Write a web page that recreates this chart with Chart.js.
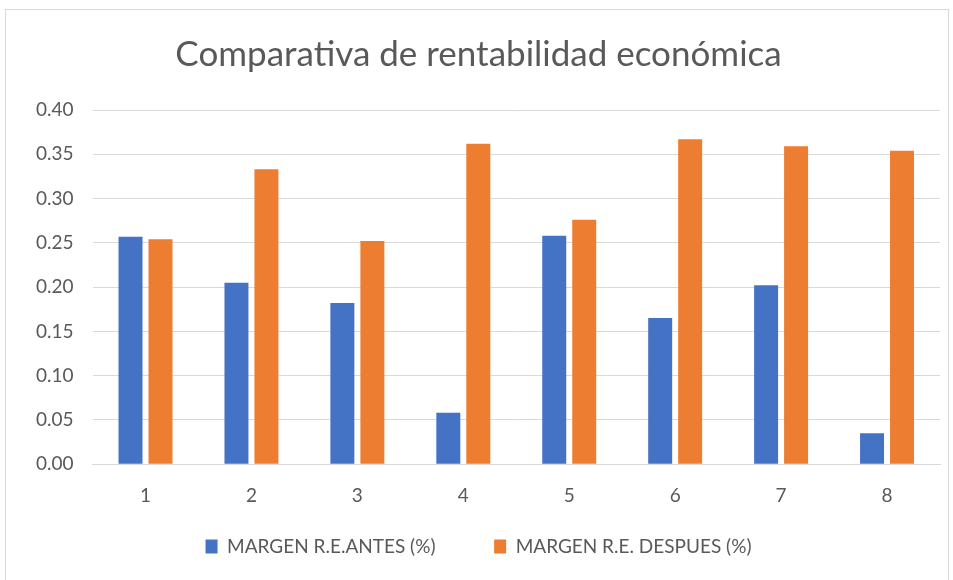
<!DOCTYPE html>
<html>
<head>
<meta charset="utf-8">
<script src="https://cdn.jsdelivr.net/npm/chart.js@4.4.0/dist/chart.umd.min.js"></script>
<style>
  body { margin: 0; background: #fff; }
  #box { position: absolute; left: 5px; top: 9px; width: 944px; height: 580px; border: 1px solid #d9d9d9; box-sizing: border-box; }
</style>
</head>
<body>
<div id="box"><canvas id="chart"></canvas></div>
<script>
const categories = ['1', '2', '3', '4', '5', '6', '7', '8'];
const antes = [0.257, 0.205, 0.182, 0.058, 0.258, 0.165, 0.202, 0.035];
const despues = [0.254, 0.333, 0.252, 0.362, 0.276, 0.367, 0.359, 0.354];
const seriesNames = ['MARGEN R.E.ANTES (%)', 'MARGEN R.E. DESPUES (%)'];

const fontFamily = 'Lato, "Open Sans", sans-serif';
const textColor = '#595959';

let ctx = document.getElementById('chart').getContext('2d');
let chart = new Chart(ctx, {
    type: 'bar',
    data: {
        labels: categories,
        datasets: [{
            label: seriesNames[0],
            data: antes,
            backgroundColor: '#4472c4',
            barPercentage: 0.8,
            categoryPercentage: 0.566
        }, {
            label: seriesNames[1],
            data: despues,
            backgroundColor: '#ed7d31',
            barPercentage: 0.8,
            categoryPercentage: 0.566
        }]
    },
    options: {
        responsive: true,
        maintainAspectRatio: false,
        animation: false,
        layout: { padding: { left: 11, right: 8, top: 10, bottom: 22 } },
        plugins: {
            title: {
                display: true,
                text: 'Comparativa de rentabilidad económica',
                color: textColor,
                font: { family: fontFamily, size: 35, weight: 'normal' },
                padding: { top: 14, bottom: 34 }
            },
            legend: {
                position: 'bottom',
                labels: {
                    color: textColor,
                    font: { family: fontFamily, size: 19 },
                    boxWidth: 12,
                    boxHeight: 14,
                    padding: 10,
                    // extra gap between the two legend items, like the original
                    generateLabels: c => {
                        let items = Chart.defaults.plugins.legend.labels.generateLabels(c);
                        items[0].text = items[0].text + '          ';
                        return items;
                    }
                }
            },
            tooltip: { enabled: false }
        },
        scales: {
            x: {
                grid: { display: false, drawTicks: false },
                border: { color: '#d9d9d9' },
                ticks: { color: textColor, font: { family: fontFamily, size: 19 }, padding: 20 }
            },
            y: {
                min: 0,
                max: 0.4,
                grid: { color: '#d9d9d9', drawTicks: false },
                border: { display: false },
                ticks: {
                    stepSize: 0.05,
                    color: textColor,
                    font: { family: fontFamily, size: 19 },
                    padding: 19,
                    callback: v => v.toFixed(2)
                }
            }
        }
    }
});
</script>
</body>
</html>
